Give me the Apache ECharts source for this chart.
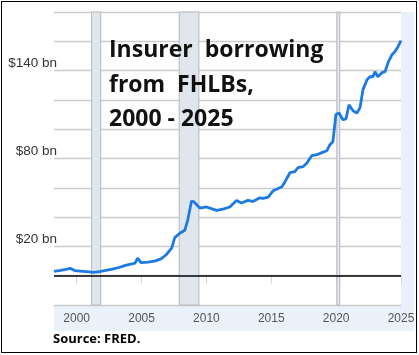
<!DOCTYPE html>
<html><head><meta charset="utf-8">
<script src="https://cdn.jsdelivr.net/npm/echarts@6/dist/echarts.min.js"></script>
<style>
html,body{margin:0;padding:0;background:#fff;}
#wrap{position:absolute;left:0;top:0;width:419px;height:355px;}
#border{position:absolute;left:1px;top:1px;width:414px;height:350px;border:1.5px solid #000;box-sizing:content-box;pointer-events:none;}
#c{position:absolute;left:0;top:0;width:419px;height:355px;}
</style></head>
<body><div id="wrap"><div id="c"></div><div id="border"></div></div>
<script>
// Insurer borrowing from FHLBs, $ bn (year, value)
const years = [1998.25,1998.75,1999.25,1999.5,1999.85,2000.5,2001.0,2001.25,2001.75,2002.25,2002.75,2003.25,2003.75,2004.25,2004.5,2004.7,2004.95,2005.5,2006.0,2006.5,2006.9,2007.33,2007.56,2007.95,2008.33,2008.56,2008.85,2009.03,2009.49,2010.0,2010.78,2011.27,2011.8,2012.32,2012.7,2013.2,2013.58,2014.12,2014.37,2014.76,2015.15,2015.4,2015.82,2016.05,2016.44,2016.82,2017.05,2017.44,2017.75,2018.13,2018.52,2018.9,2019.29,2019.52,2019.75,2019.98,2020.22,2020.52,2020.76,2020.99,2021.3,2021.6,2021.84,2022.07,2022.38,2022.6,2022.84,2022.99,2023.22,2023.53,2023.77,2024.0,2024.3,2024.54,2024.77,2025.0];
const values = [3.0,3.6,4.5,5.0,3.5,3.0,2.6,2.2,2.8,3.6,4.5,5.6,7.0,8.0,8.6,12.0,8.9,9.3,10.0,11.5,14.3,19.0,26.0,29.0,31.0,38.0,51.0,50.5,46.2,46.9,44.6,45.5,46.9,51.4,49.6,51.4,50.7,53.2,52.8,53.7,58.0,59.0,60.7,64.0,70.3,71.0,73.7,74.4,77.0,82.0,82.6,84.0,85.3,89.4,91.5,110.0,111.0,106.5,107.0,116.7,112.6,111.0,114.7,127.0,133.8,135.8,135.8,139.2,135.8,138.6,139.2,145.4,150.8,153.0,156.3,160.4];
const xTickLabels = [2000,2005,2010,2015,2020,2025];
const yLabelValues = [20,80,140];
const recessions = [[2001.15,2001.85],[2007.9,2009.42],[2020.05,2020.28]];
const titleLines = ['Insurer  borrowing','from  FHLBs,','2000 - 2025'];
const sourceText = 'Source: FRED.';

const chart = echarts.init(document.getElementById('c'), null, {renderer:'canvas'});
const data = years.map((y,i)=>[y, values[i]]);
chart.setOption({
  animation:false,
  backgroundColor:'#fff',
  grid:{left:54,right:18,top:12,bottom:50,containLabel:false},
  xAxis:{
    type:'value',min:1998.25,max:2025,
    axisLine:{show:true,lineStyle:{color:'#d3dbe6',width:1}},
    axisTick:{show:true,customValues:xTickLabels,length:8,lineStyle:{color:'#cfd6e0'}},
    axisLabel:{customValues:xTickLabels,color:'#555',fontSize:12,fontFamily:'Liberation Sans, Arial',margin:8,formatter:v=>String(Math.round(v))},
    splitLine:{show:false}
  },
  yAxis:{
    type:'value',min:-20,max:180,interval:20,
    axisLine:{show:false},axisTick:{show:false},
    axisLabel:{color:'#333',fontSize:13.5,fontFamily:'Liberation Sans, Arial',margin:-3,verticalAlign:'bottom',
      formatter:v=>yLabelValues.includes(v)?('$'+v+' bn'):''},
    splitLine:{show:true,lineStyle:{color:'#cccccc',width:1.3}}
  },
  graphic:[
    {type:'rect',z:-10,silent:true,shape:{x:54,y:305,width:360,height:26},style:{fill:'#eaf1fa'}},
    {type:'rect',z:-10,silent:true,shape:{x:401,y:12,width:13,height:293},style:{fill:'#eaf1fa'}},
    {type:'text',z:100,left:53,top:333,style:{text:sourceText,font:'bold 13px "Open Sans", sans-serif',fill:'#000'}},
    ...titleLines.map((t,i)=>({type:'text',z:100,x:109,y:[50,85,119][i],style:{text:t,font:'bold 23px "Open Sans", sans-serif',fill:'#111',verticalAlign:'middle'}}))
  ],
  series:[{
    type:'line',data:data,showSymbol:false,smooth:false,
    lineStyle:{color:'#1c7ae2',width:2.8},
    z:5,
    markArea:{silent:true,itemStyle:{color:'#e1e6ec',borderColor:'#b5b9bf',borderWidth:1},
      data:recessions.map(r=>[{xAxis:r[0]},{xAxis:r[1]}])},
    markLine:{silent:true,symbol:['none','none'],label:{show:false},
      lineStyle:{color:'#000',width:1.5,type:'solid'},data:[{yAxis:0}]}
  }]
});
</script></body></html>
